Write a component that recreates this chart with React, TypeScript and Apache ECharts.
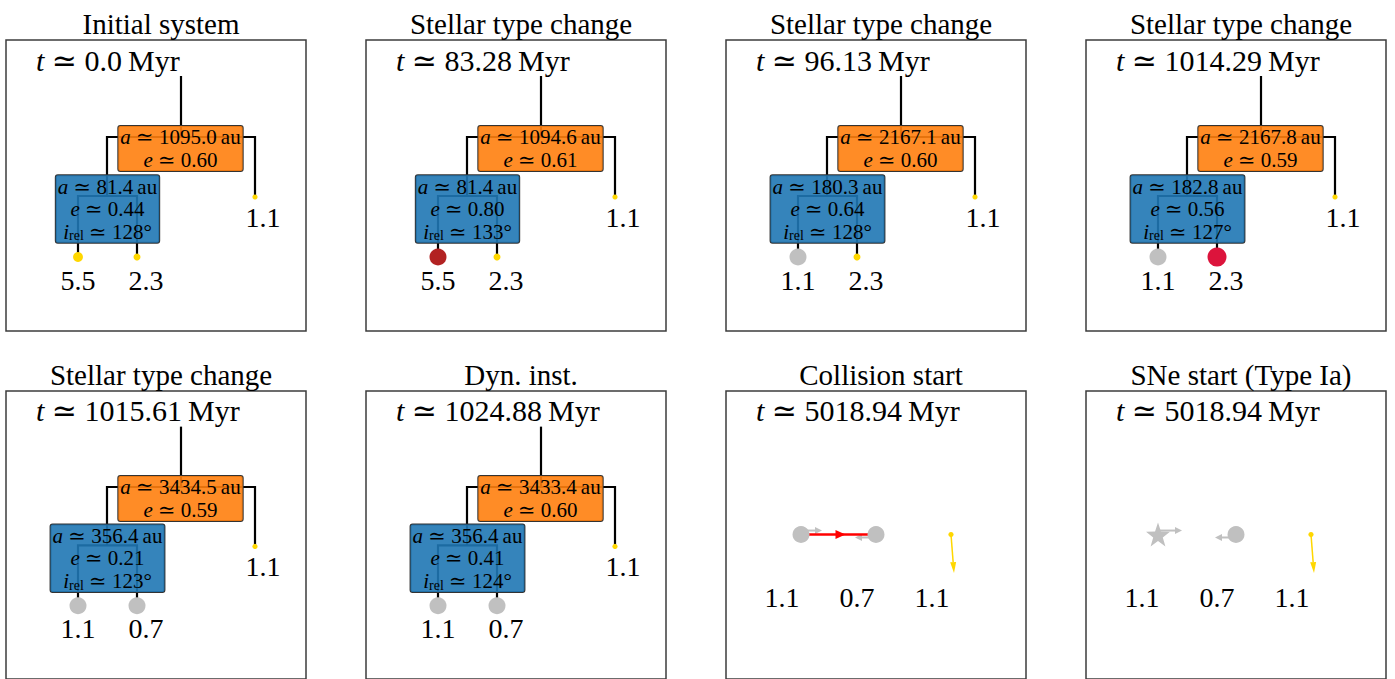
import React, { useEffect, useRef } from "react";
import * as echarts from "echarts";

// ---------- data ----------
const titles = [
  "Initial system",
  "Stellar type change",
  "Stellar type change",
  "Stellar type change",
  "Stellar type change",
  "Dyn. inst.",
  "Collision start",
  "SNe start (Type Ia)",
];
const timesMyr = ["0.0", "83.28", "96.13", "1014.29", "1015.61", "1024.88", "5018.94", "5018.94"];
const outerA = ["1095.0", "1094.6", "2167.1", "2167.8", "3434.5", "3433.4"];
const outerE = ["0.60", "0.61", "0.60", "0.59", "0.59", "0.60"];
const innerA = ["81.4", "81.4", "180.3", "182.8", "356.4", "356.4"];
const innerE = ["0.44", "0.80", "0.64", "0.56", "0.21", "0.41"];
const innerI = ["128", "133", "128", "127", "123", "124"];
const masses = [
  [5.5, 2.3, 1.1],
  [5.5, 2.3, 1.1],
  [1.1, 2.3, 1.1],
  [1.1, 2.3, 1.1],
  [1.1, 0.7, 1.1],
  [1.1, 0.7, 1.1],
  [1.1, 0.7, 1.1],
  [1.1, 0.7, 1.1],
];
const stellarTypes = [
  ["MS", "MS", "MS"],
  ["CHeB", "MS", "MS"],
  ["WD", "MS", "MS"],
  ["WD", "EAGB", "MS"],
  ["WD", "WD", "MS"],
  ["WD", "WD", "MS"],
  ["WD", "WD", "MS"],
  ["SN", "WD", "MS"],
];
const isHierarchical = [true, true, true, true, true, true, false, false];
const collisionArrows: { kind: string; from: number[]; to: number[] }[] = [
  { kind: "vel", from: [75, 141], to: [96, 141] },
  { kind: "vel", from: [150, 148], to: [129, 148] },
  { kind: "coll", from: [75, 145], to: [150, 145] },
  { kind: "velMS", from: [225, 145], to: [228, 184] },
];
const supernovaArrows: { kind: string; from: number[]; to: number[] }[] = [
  { kind: "vel", from: [74, 141], to: [96, 141] },
  { kind: "vel", from: [150, 148], to: [129, 148] },
  { kind: "velMS", from: [225, 145], to: [228, 184] },
];

// ---------- layout & styles ----------
const FONT = "Liberation Serif, DejaVu Serif, serif";
const TREE_EDGES = [
  [[175, 36], [175, 97]],
  [[101, 156], [101, 97], [249, 97], [249, 157]],
  [[72, 217], [72, 156], [131, 156], [131, 217]],
];
const OUTER_BOX = [174.5, 108.5];
const INNER_BOX = [101.5, 169];
const TREE_LEAVES = [[72, 217], [131, 217], [249, 157]];
const TREE_LABELS = [[72, 240], [140, 240], [257, 177]];
const FLAT_STARS = [[75, 145], [150, 145], [225, 145]];
const FLAT_STARS_SN = [[72, 145], [150, 145], [225, 145]];
const FLAT_LABELS = [[56, 209], [131, 209], [206, 209]];
const TIME_POS = [30, 20];

const STAR_PATH =
  "path://M0,-10 L2.35,-3.24 L9.51,-3.09 L3.8,1.24 L5.88,8.09 L0,4 L-5.88,8.09 L-3.8,1.24 L-9.51,-3.09 L-2.35,-3.24 Z";

const TYPE_STYLE: Record<string, { color: string; size?: number; symbol?: string }> = {
  MS: { color: "#FFD700" },
  CHeB: { color: "#B22222", size: 17 },
  EAGB: { color: "#DC143C", size: 19 },
  WD: { color: "#C0C0C0", size: 17 },
  SN: { color: "#C0C0C0", size: 24, symbol: STAR_PATH },
};
const ARROW_STYLE: Record<string, { color: string; lw: number; head: number; hw: number }> = {
  vel: { color: "#C0C0C0", lw: 2, head: 7, hw: 3.5 },
  coll: { color: "#FF0000", lw: 2.5, head: 10, hw: 4.5 },
  velMS: { color: "#FFD700", lw: 1.5, head: 11, hw: 3 },
};

const RICH_BOX = {
  it: { fontFamily: FONT, fontStyle: "italic", fontSize: 21, lineHeight: 22.5, align: "center", fill: "#000" },
  n: { fontFamily: FONT, fontSize: 21, lineHeight: 22.5, align: "center", fill: "#000" },
  sub: { fontFamily: FONT, fontSize: 14, lineHeight: 14, verticalAlign: "bottom", align: "center", fill: "#000" },
};
const RICH_TIME = {
  it: { fontFamily: FONT, fontStyle: "italic", fontSize: 30, fill: "#000" },
  n: { fontFamily: FONT, fontSize: 30, fill: "#000" },
};

function buildOption() {
  const grid: any[] = [];
  const xAxis: any[] = [];
  const yAxis: any[] = [];
  const title: any[] = [];
  const series: any[] = [];

  for (let p = 0; p < 8; p++) {
    const col = p % 4;
    const row = Math.floor(p / 4);
    grid.push({
      left: 6 + 360 * col,
      top: 40 + 351 * row,
      width: 300,
      height: 291,
      show: true,
      borderColor: "#3c3c3c",
      borderWidth: 1.5,
      backgroundColor: "#fff",
    });
    xAxis.push({ type: "value", gridIndex: p, min: 0, max: 300, show: false });
    yAxis.push({ type: "value", gridIndex: p, min: 0, max: 291, inverse: true, show: false });
    title.push({
      text: titles[p],
      left: 156 + 360 * col,
      top: 4 + 351 * row,
      textAlign: "center",
      textStyle: { fontFamily: FONT, fontSize: 29, fontWeight: "normal", color: "#000" },
    });

    const tree = isHierarchical[p];
    const starPos = tree ? TREE_LEAVES : p === 7 ? FLAT_STARS_SN : FLAT_STARS;
    const labelPos = tree ? TREE_LABELS : FLAT_LABELS;

    if (tree) {
      series.push({
        type: "custom",
        xAxisIndex: p,
        yAxisIndex: p,
        z: 1,
        silent: true,
        data: TREE_EDGES.map((e) => e[0]),
        renderItem: (params: any, api: any) => ({
          type: "polyline",
          shape: { points: TREE_EDGES[params.dataIndex].map((pt) => api.coord(pt)) },
          style: { stroke: "#000", lineWidth: 2.2, fill: null },
        }),
      });
      const boxTexts = [
        `{it|a}{n| ≃ ${outerA[p]}\u2009au}\n{it|e}{n| ≃ ${outerE[p]}}`,
        `{it|a}{n| ≃ ${innerA[p]}\u2009au}\n{it|e}{n| ≃ ${innerE[p]}}\n{it|i}{sub|rel}{n| ≃ ${innerI[p]}°}`,
      ];
      const boxCenters = [OUTER_BOX, INNER_BOX];
      const boxFill = ["rgba(255,127,14,0.9)", "rgba(31,119,180,0.9)"];
      series.push({
        type: "custom",
        xAxisIndex: p,
        yAxisIndex: p,
        z: 3,
        silent: true,
        data: boxCenters,
        renderItem: (params: any, api: any) => {
          const c = api.coord(boxCenters[params.dataIndex]);
          return {
            type: "text",
            x: c[0],
            y: c[1],
            style: {
              text: boxTexts[params.dataIndex],
              rich: RICH_BOX,
              fontFamily: FONT,
              fontSize: 21,
              fill: "#000",
              align: "center",
              verticalAlign: "middle",
              backgroundColor: boxFill[params.dataIndex],
              borderColor: "#333",
              borderWidth: 1,
              borderRadius: 2,
              padding: [0, 2, 0, 2],
            },
          };
        },
      });
    } else {
      const arrows = p === 6 ? collisionArrows : supernovaArrows;
      series.push({
        type: "custom",
        xAxisIndex: p,
        yAxisIndex: p,
        z: 2,
        silent: true,
        data: arrows.map((a) => a.from),
        renderItem: (params: any, api: any) => {
          const a = arrows[params.dataIndex];
          const st = ARROW_STYLE[a.kind];
          const s = api.coord(a.from);
          const e = api.coord(a.to);
          const dx = e[0] - s[0];
          const dy = e[1] - s[1];
          const L = Math.hypot(dx, dy) || 1;
          const ux = dx / L;
          const uy = dy / L;
          const tip =
            a.kind === "coll"
              ? [(s[0] + e[0]) / 2 + (ux * st.head) / 2 + 2, (s[1] + e[1]) / 2 + (uy * st.head) / 2]
              : e;
          const base = [tip[0] - ux * st.head, tip[1] - uy * st.head];
          const nx = -uy;
          const ny = ux;
          const shaftEnd = a.kind === "coll" ? e : base;
          return {
            type: "group",
            children: [
              {
                type: "line",
                shape: { x1: s[0], y1: s[1], x2: shaftEnd[0], y2: shaftEnd[1] },
                style: { stroke: st.color, lineWidth: st.lw },
              },
              {
                type: "polygon",
                shape: {
                  points: [
                    tip,
                    [base[0] + nx * st.hw, base[1] + ny * st.hw],
                    [base[0] - nx * st.hw, base[1] - ny * st.hw],
                  ],
                },
                style: { fill: st.color },
              },
            ],
          };
        },
      });
    }

    series.push({
      type: "scatter",
      xAxisIndex: p,
      yAxisIndex: p,
      z: 4,
      silent: true,
      data: starPos.map((pt, i) => {
        const t = stellarTypes[p][i];
        const ts = TYPE_STYLE[t];
        const size = ts.size ?? 5 * Math.pow(masses[p][i], 0.4);
        return {
          value: pt,
          symbol: ts.symbol ?? "circle",
          symbolSize: size,
          itemStyle: { color: ts.color, opacity: 1 },
        };
      }),
    });

    const textItems = [
      { pos: TIME_POS, text: `{it|t}{n| ≃ ${timesMyr[p]}\u2009Myr}`, align: "left", rich: true },
      ...labelPos.map((pt, i) => ({ pos: pt, text: masses[p][i].toFixed(1), align: "center", rich: false })),
    ];
    series.push({
      type: "custom",
      xAxisIndex: p,
      yAxisIndex: p,
      z: 5,
      silent: true,
      data: textItems.map((t) => t.pos),
      renderItem: (params: any, api: any) => {
        const t = textItems[params.dataIndex];
        const c = api.coord(t.pos);
        return {
          type: "text",
          x: c[0],
          y: c[1],
          style: {
            text: t.text,
            rich: t.rich ? RICH_TIME : undefined,
            fontFamily: FONT,
            fontSize: t.rich ? 30 : 28,
            fill: "#000",
            align: t.align,
            verticalAlign: "middle",
          },
        };
      },
    });
  }

  return {
    animation: false,
    backgroundColor: "#fff",
    textStyle: { fontFamily: FONT },
    title,
    grid,
    xAxis,
    yAxis,
    series,
  };
}

export default function App() {
  const ref = useRef<HTMLDivElement>(null);
  useEffect(() => {
    if (!ref.current) return;
    const chart = echarts.init(ref.current, undefined, { renderer: "svg" });
    chart.setOption(buildOption() as any);
    return () => chart.dispose();
  }, []);
  return (
    <div
      ref={ref}
      style={{ position: "fixed", left: 0, top: 0, width: 1395, height: 679, background: "#fff" }}
    />
  );
}
